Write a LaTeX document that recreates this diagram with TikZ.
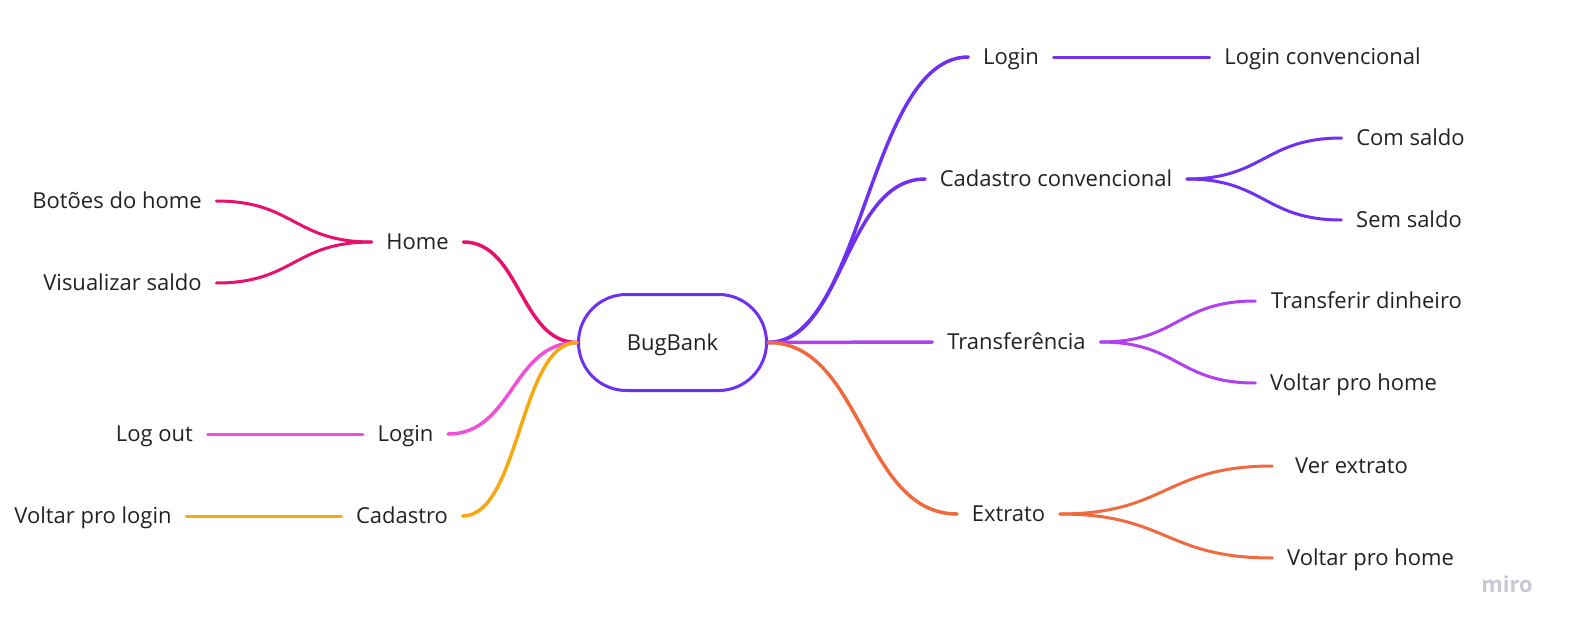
\documentclass[tikz,border=0pt]{standalone}
\usepackage{fontspec}
\setmainfont{Open Sans}
\definecolor{cpurple}{HTML}{7030F0}
\definecolor{cviolet}{HTML}{B040F0}
\definecolor{corange}{HTML}{F06A40}
\definecolor{cmagenta}{HTML}{E8106E}
\definecolor{cpink}{HTML}{F050D8}
\definecolor{cyellow}{HTML}{F5A80F}
\definecolor{ctext}{HTML}{222222}
\definecolor{cmiro}{HTML}{C8C8D4}
\tikzset{
  lbl/.style={font=\fontsize{22}{26}\selectfont, text=ctext, inner xsep=14.5pt, inner ysep=0pt, text height=15.7pt, text depth=0pt},
  br/.style={line width=3pt, line cap=round},
  brone/.style={line width=3.5pt, line cap=round},
  centerbox/.style={draw=cpurple, line width=3pt, rounded corners=47.9pt, minimum width=188pt, minimum height=96pt, inner sep=0pt, font=\fontsize{22}{26}\selectfont, text=ctext, text height=15.7pt, text depth=0pt}
}
\begin{document}
\begin{tikzpicture}[x=1pt,y=-1pt]
\useasboundingbox (0,0) rectangle (1588,629);
\fill[white] (0,0) rectangle (1588,629);
% center
\node[centerbox] (bug) at (672.5,342.5) {BugBank};
% right side
\node[lbl, minimum width=83pt] (loginR) at (1011,57) {Login};
\node[lbl, minimum width=224pt] (loginconv) at (1322.5,57) {Login convencional};
\node[lbl, minimum width=261pt] (cadconv) at (1056,179) {Cadastro convencional};
\node[lbl, minimum width=136pt] (comsaldo) at (1410.5,138) {Com saldo};
\node[lbl, minimum width=133pt] (semsaldo) at (1409,220) {Sem saldo};
\node[lbl, minimum width=168pt] (transf) at (1016.5,342) {Transferência};
\node[lbl, minimum width=222pt] (transfdin) at (1366.5,301) {Transferir dinheiro};
\node[lbl, minimum width=196pt] (voltarhomeA) at (1353.5,383) {Voltar pro home};
\node[lbl, minimum width=102pt] (extrato) at (1008.5,514) {Extrato};
\node[lbl, minimum width=158pt] (verextrato) at (1351.5,466) {Ver extrato};
\node[lbl, minimum width=196pt] (voltarhomeB) at (1370.5,558) {Voltar pro home};
% left side
\node[lbl, minimum width=90pt] (home) at (417.5,242) {Home};
\node[lbl, minimum width=197pt] (botoes) at (117,201) {Botões do home};
\node[lbl, minimum width=186pt] (visualizar) at (122.5,283) {Visualizar saldo};
\node[lbl, minimum width=84pt] (loginL) at (405.5,434) {Login};
\node[lbl, minimum width=106pt] (logout) at (154.5,434) {Log out};
\node[lbl, minimum width=119pt] (cadastro) at (402,516) {Cadastro};
\node[lbl, minimum width=185pt] (voltarlogin) at (93,516) {Voltar pro login};
% watermark
\node[font=\fontsize{22}{22}\selectfont\bfseries, text=cmiro, anchor=base, inner sep=0pt] (miro) at (1507,592) {miro};
% right connectors
\draw[brone, cpurple] (bug.east) .. controls +(95,0) and +(-100,0) .. (loginR.west);
\draw[brone, cpurple] (bug.east) .. controls +(75,0) and +(-80,0) .. (cadconv.west);
\draw[brone, cviolet] (bug.east) -- (transf.west);
\draw[brone, corange] (bug.east) .. controls +(95,0) and +(-95,0) .. (extrato.west);
\draw[br, cpurple] (loginR.east) -- (loginconv.west);
\draw[br, cpurple] (cadconv.east) .. controls +(77,0) and +(-77,0) .. (comsaldo.west);
\draw[br, cpurple] (cadconv.east) .. controls +(77,0) and +(-77,0) .. (semsaldo.west);
\draw[br, cviolet] (transf.east) .. controls +(78,0) and +(-78,0) .. (transfdin.west);
\draw[br, cviolet] (transf.east) .. controls +(78,0) and +(-78,0) .. (voltarhomeA.west);
\draw[br, corange] (extrato.east) .. controls +(107,0) and +(-107,0) .. (verextrato.west);
\draw[br, corange] (extrato.east) .. controls +(107,0) and +(-107,0) .. (voltarhomeB.west);
% left connectors
\draw[brone, cmagenta] (bug.west) .. controls +(-57,0) and +(57,0) .. (home.east);
\draw[brone, cpink] (bug.west) .. controls +(-65,0) and +(65,0) .. (loginL.east);
\draw[brone, cyellow] (bug.west) .. controls +(-57,0) and +(57,0) .. (cadastro.east);
\draw[br, cmagenta] (home.west) .. controls +(-78,0) and +(78,0) .. (botoes.east);
\draw[br, cmagenta] (home.west) .. controls +(-78,0) and +(78,0) .. (visualizar.east);
\draw[br, cpink] (loginL.west) -- (logout.east);
\draw[br, cyellow] (cadastro.west) -- (voltarlogin.east);
\end{tikzpicture}
\end{document}
